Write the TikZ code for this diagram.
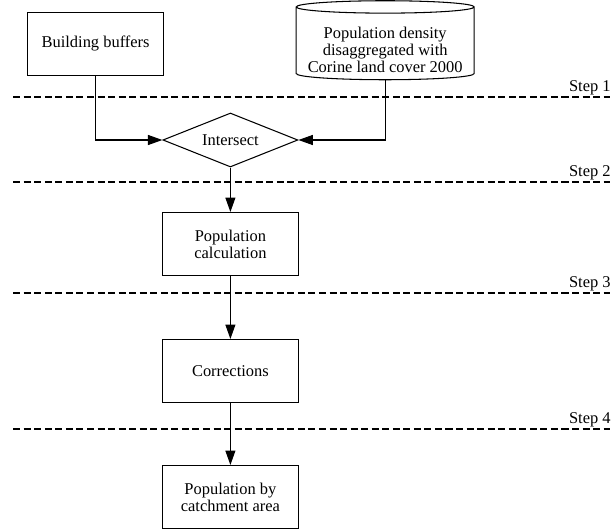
\documentclass[tikz,border=0pt]{standalone}
\usepackage{fontspec}
\setmainfont{Liberation Serif}
\usepackage{tikz}
\usetikzlibrary{shapes.geometric, arrows.meta}

\tikzset{
    box/.style={rectangle, draw, align=center, minimum width=3.4cm, minimum height=1.575cm, inner sep=0pt},
    datastore/.style={cylinder, draw, shape border rotate=90, aspect=0.08, align=center,
        minimum width=4.45cm, minimum height=1.975cm, inner sep=0pt},
    decision/.style={diamond, draw, aspect=2.5, minimum width=3.375cm, minimum height=1.35cm, inner sep=0pt},
    stepline/.style={dash pattern=on 5pt off 2.5pt},
    steplabel/.style={anchor=base east, inner sep=0pt}
}

\begin{document}
\begin{tikzpicture}[>={Triangle[length=3.6mm, width=2.5mm]}, line width=0.75pt,
    every node/.append style={font=\fontsize{11.7}{12.1}\selectfont}]
    \useasboundingbox (0,0) rectangle (15.4,-13.25);

    \node[box] (buffers) at (2.39,-1.09) {Building buffers};
    \node[datastore] (density) at (9.63,-1.09) {\rule{0pt}{17pt}Population density\\disaggregated with\\Corine land cover 2000};
    \node[decision] (intersect) at (5.76,-3.5) {Intersect};
    \node[box, below of=intersect, node distance=2.6cm] (calculation) {Population\\calculation};
    \node[box, below of=calculation, node distance=3.175cm] (corrections) {Corrections};
    \node[box, below of=corrections, node distance=3.15cm] (catchment) {Population by\\catchment area};

    % step separators
    \draw[stepline] (0.33,-2.425) -- (15.25,-2.425);
    \draw[stepline] (0.33,-4.55) -- (15.25,-4.55);
    \draw[stepline] (0.33,-7.325) -- (15.25,-7.325);
    \draw[stepline] (0.33,-10.725) -- (15.25,-10.725);
    \node[steplabel] (step1) at (15.28,-2.28) {Step 1};
    \node[steplabel] (step2) at (15.28,-4.405) {Step 2};
    \node[steplabel] (step3) at (15.28,-7.18) {Step 3};
    \node[steplabel] (step4) at (15.28,-10.58) {Step 4};

    \draw[->] (buffers) |- (intersect);
    \draw[->] (density) |- (intersect);
    \draw[->] (intersect) -- (calculation);
    \draw[->] (calculation) -- (corrections);
    \draw[->] (corrections) -- (catchment);
\end{tikzpicture}
\end{document}
